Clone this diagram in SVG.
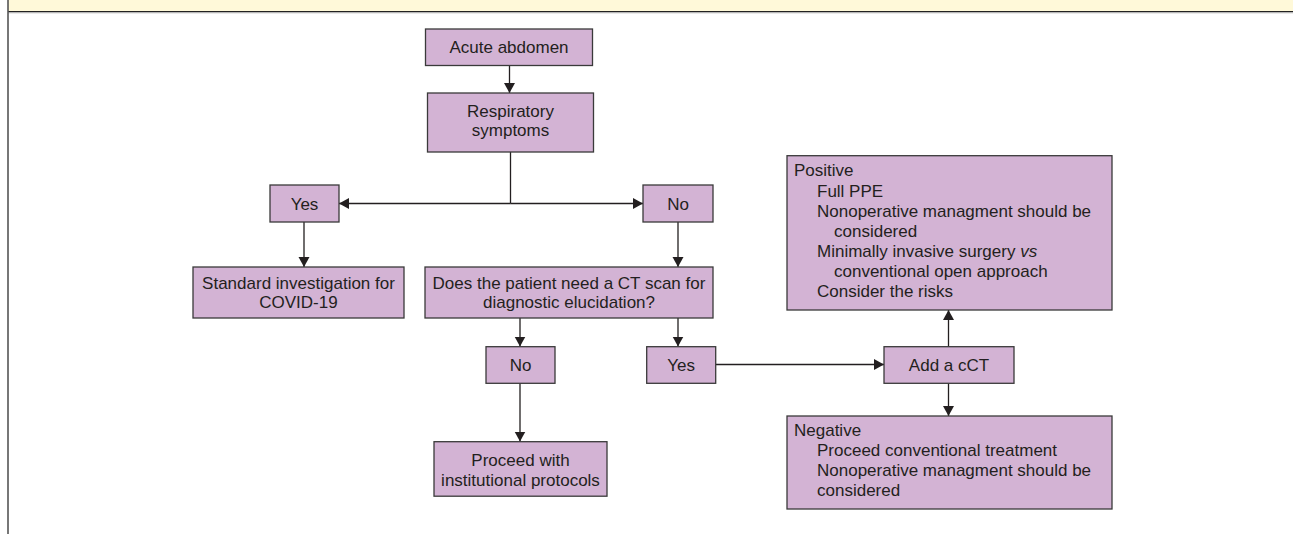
<svg xmlns="http://www.w3.org/2000/svg" width="1293" height="534" viewBox="0 0 1293 534">
<defs>
<marker id="ah" markerWidth="12" markerHeight="12" refX="10" refY="5.5" orient="auto" markerUnits="userSpaceOnUse">
<path d="M0,0 L10,5.5 L0,11 Z" fill="#231F20"/>
</marker>
<style>
.box{fill:#D3B3D4;stroke:#3A3A3A;stroke-width:1.3}
.t{font-family:"Liberation Sans",Arial,sans-serif;font-size:17px;fill:#231F20}
.c{text-anchor:middle}
.ln{stroke:#231F20;stroke-width:1.3;fill:none}
.a{marker-end:url(#ah)}
</style>
</defs>
<rect x="0" y="0" width="1293" height="534" fill="#FFFFFF"/>
<rect x="8" y="0" width="1285" height="11.5" fill="#FFF9D9"/>
<line x1="8" y1="11.6" x2="1293" y2="11.6" stroke="#222" stroke-width="1.4"/>
<line x1="8" y1="12.8" x2="1293" y2="12.8" stroke="#AAA" stroke-width="0.8"/>
<line x1="8" y1="0" x2="8" y2="534" stroke="#555" stroke-width="1.6"/>

<g id="connectors">
<line class="ln a" x1="509.5" y1="66" x2="509.5" y2="93"/>
<line class="ln" x1="510.5" y1="152" x2="510.5" y2="203.5"/>
<line class="ln a" x1="510.5" y1="203.5" x2="339" y2="203.5"/>
<line class="ln a" x1="510.5" y1="203.5" x2="643" y2="203.5"/>
<line class="ln a" x1="304" y1="222" x2="304" y2="267"/>
<line class="ln a" x1="678" y1="222" x2="678" y2="267"/>
<line class="ln a" x1="520" y1="318" x2="520" y2="346.5"/>
<line class="ln a" x1="678" y1="318" x2="678" y2="346.5"/>
<line class="ln a" x1="520" y1="383.3" x2="520" y2="441.5"/>
<line class="ln a" x1="715.7" y1="364.5" x2="884" y2="364.5"/>
<line class="ln a" x1="948.5" y1="346.7" x2="948.5" y2="310"/>
<line class="ln a" x1="948.5" y1="383.3" x2="948.5" y2="416"/>
</g>

<g id="acute">
<rect class="box" x="425.5" y="29" width="167" height="36.5"/>
<text class="t c" x="509" y="52.5">Acute abdomen</text>
</g>
<g id="respiratory">
<rect class="box" x="427.5" y="93" width="166" height="59"/>
<text class="t c" x="510.5" y="116.5">Respiratory</text>
<text class="t c" x="510.5" y="135.5">symptoms</text>
</g>
<g id="yes1">
<rect class="box" x="270" y="185" width="69" height="37"/>
<text class="t c" x="304.5" y="209.5">Yes</text>
</g>
<g id="no1">
<rect class="box" x="643" y="185" width="70" height="37"/>
<text class="t c" x="678" y="209.5">No</text>
</g>
<g id="standard">
<rect class="box" x="193" y="267" width="211" height="51"/>
<text class="t c" x="298.5" y="288.5">Standard investigation for</text>
<text class="t c" x="298.5" y="308">COVID-19</text>
</g>
<g id="ctscan">
<rect class="box" x="425" y="267" width="288" height="51"/>
<text class="t c" x="569" y="288.5">Does the patient need a CT scan for</text>
<text class="t c" x="569" y="308">diagnostic elucidation?</text>
</g>
<g id="no2">
<rect class="box" x="486" y="346.7" width="69" height="36.6"/>
<text class="t c" x="520.5" y="370.5">No</text>
</g>
<g id="yes2">
<rect class="box" x="646.7" y="346.7" width="69" height="36.6"/>
<text class="t c" x="681.2" y="370.5">Yes</text>
</g>
<g id="proceed">
<rect class="box" x="434" y="441.7" width="173" height="54.5"/>
<text class="t c" x="520.5" y="466">Proceed with</text>
<text class="t c" x="520.5" y="486">institutional protocols</text>
</g>
<g id="addcct">
<rect class="box" x="884" y="346.7" width="130" height="36.6"/>
<text class="t c" x="949" y="370.5">Add a cCT</text>
</g>
<g id="positive">
<rect class="box" x="787" y="155.7" width="325" height="154.3"/>
<text class="t" x="794" y="176.4">Positive</text>
<text class="t" x="817" y="196.5">Full PPE</text>
<text class="t" x="817" y="216.6">Nonoperative managment should be</text>
<text class="t" x="834" y="236.7">considered</text>
<text class="t" x="817" y="256.8">Minimally invasive surgery <tspan font-style="italic">vs</tspan></text>
<text class="t" x="834" y="276.9">conventional open approach</text>
<text class="t" x="817" y="297">Consider the risks</text>
</g>
<g id="negative">
<rect class="box" x="787" y="416" width="325" height="93"/>
<text class="t" x="794" y="436">Negative</text>
<text class="t" x="817" y="456">Proceed conventional treatment</text>
<text class="t" x="817" y="476">Nonoperative managment should be</text>
<text class="t" x="817" y="496">considered</text>
</g>
</svg>
